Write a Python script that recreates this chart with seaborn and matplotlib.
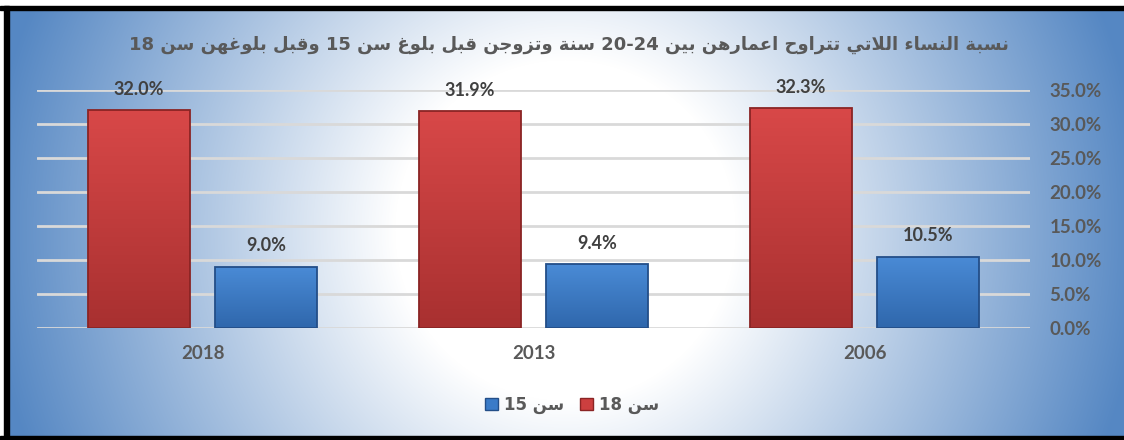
import re

import matplotlib.pyplot as plt
import numpy as np
import pandas as pd
import seaborn as sns
from matplotlib.colors import LinearSegmentedColormap
from matplotlib.patches import Patch, Rectangle

years = ["2018", "2013", "2006"]
series_18 = [32.0, 31.9, 32.3]
series_15 = [9.0, 9.4, 10.5]
label_18 = "سن 18"
label_15 = "سن 15"
title = "نسبة النساء اللاتي تتراوح اعمارهن بين 20-24 سنة وتزوجن قبل بلوغ سن 15 وقبل بلوغهن سن 18"
y_ticks = [0, 5, 10, 15, 20, 25, 30, 35]

# arabic presentation forms: (isolated, final, initial, medial)
FORMS = {
    "ء": ("\uFE80",),
    "ا": ("\uFE8D", "\uFE8E"),
    "ب": ("\uFE8F", "\uFE90", "\uFE91", "\uFE92"),
    "ة": ("\uFE93", "\uFE94"),
    "ت": ("\uFE95", "\uFE96", "\uFE97", "\uFE98"),
    "ج": ("\uFE9D", "\uFE9E", "\uFE9F", "\uFEA0"),
    "ح": ("\uFEA1", "\uFEA2", "\uFEA3", "\uFEA4"),
    "ر": ("\uFEAD", "\uFEAE"),
    "ز": ("\uFEAF", "\uFEB0"),
    "س": ("\uFEB1", "\uFEB2", "\uFEB3", "\uFEB4"),
    "ع": ("\uFEC9", "\uFECA", "\uFECB", "\uFECC"),
    "غ": ("\uFECD", "\uFECE", "\uFECF", "\uFED0"),
    "ق": ("\uFED5", "\uFED6", "\uFED7", "\uFED8"),
    "ل": ("\uFEDD", "\uFEDE", "\uFEDF", "\uFEE0"),
    "م": ("\uFEE1", "\uFEE2", "\uFEE3", "\uFEE4"),
    "ن": ("\uFEE5", "\uFEE6", "\uFEE7", "\uFEE8"),
    "ه": ("\uFEE9", "\uFEEA", "\uFEEB", "\uFEEC"),
    "و": ("\uFEED", "\uFEEE"),
    "ي": ("\uFEF1", "\uFEF2", "\uFEF3", "\uFEF4"),
}


def is_dual(c):
    return c in FORMS and len(FORMS[c]) == 4


def is_joining(c):
    return c in FORMS and len(FORMS[c]) > 1


def rtl(text):
    out = []
    i = 0
    n = len(text)
    while i < n:
        c = text[i]
        if c not in FORMS:
            out.append(c)
            i += 1
            continue
        prev_j = i > 0 and is_dual(text[i - 1])
        if c == "ل" and i + 1 < n and text[i + 1] == "ا":
            out.append("\uFEFC" if prev_j else "\uFEFB")
            i += 2
            continue
        f = FORMS[c]
        next_j = is_dual(c) and i + 1 < n and is_joining(text[i + 1])
        if len(f) == 1:
            g = f[0]
        elif prev_j and next_j:
            g = f[3]
        elif prev_j:
            g = f[1]
        elif next_j:
            g = f[2]
        else:
            g = f[0]
        out.append(g)
        i += 1
    s = "".join(out)[::-1]
    return re.sub(r"[0-9][0-9.\-%]*", lambda m: m.group(0)[::-1], s)


df = pd.DataFrame({
    "year": years * 2,
    "value": series_18 + series_15,
    "age": [label_18] * len(years) + [label_15] * len(years),
})

sns.set_theme(style="white")
plt.rcParams["font.family"] = ["Lato", "DejaVu Sans"]

W, H = 1124, 440
fig = plt.figure(figsize=(W / 100, H / 100), dpi=100)

# background: white centre fading to blue at the sides
bg = fig.add_axes([0, 0, 1, 1], zorder=-5)
xx, yy = np.meshgrid(np.arange(W), np.arange(H))
d = np.sqrt((xx - 565.0) ** 2 + (yy - 230.0) ** 2)
t = np.clip((d - 170) / 410, 0, 1)[..., None]
blue = np.array([85, 135, 195]) / 255
img = (1 - t) * np.ones(3) + t * blue
bg.imshow(img, extent=[0, W, H, 0], aspect="auto", interpolation="bilinear")
bg.add_patch(Rectangle((0, 0), W, 6, color="white"))
bg.add_patch(Rectangle((0, 0), 4, H, color="white"))
bg.add_patch(Rectangle((0, 6), W, 4, color="black"))
bg.add_patch(Rectangle((4, 6), 5, H, color="black"))
bg.add_patch(Rectangle((0, H - 4), W, 4, color="black"))
bg.set_xlim(0, W)
bg.set_ylim(H, 0)
bg.axis("off")

ax = fig.add_axes([37 / W, 112 / H, 993 / W, 238 / H])
ax.patch.set_alpha(0)

red = "#CC3F3F"
blue_bar = "#3A7BC8"
sns.barplot(
    data=df, x="year", y="value", hue="age",
    order=years, hue_order=[label_18, label_15],
    palette=[red, blue_bar], saturation=1, width=0.77, gap=0.2,
    ax=ax, zorder=3,
)

# vertical shading on the bars, dark at the foot, light at the top
shades = [("#A83030", "#D84848", "#8A2424"), ("#2F67AC", "#4A8BD6", "#234E88")]
for container, (c_lo, c_hi, ec) in zip(ax.containers, shades):
    cmap = LinearSegmentedColormap.from_list("shade", [c_lo, c_hi])
    for bar in container:
        x0, y0 = bar.get_x(), bar.get_y()
        w, h = bar.get_width(), bar.get_height()
        grad = np.linspace(0, 1, 200).reshape(-1, 1)
        im = ax.imshow(grad, extent=[x0, x0 + w, y0, y0 + h], origin="lower",
                       cmap=cmap, aspect="auto", zorder=3.5)
        im.set_clip_path(bar)
        bar.set_facecolor("none")
        bar.set_edgecolor(ec)
        bar.set_linewidth(1.3)
        bar.set_zorder(4)
    ax.bar_label(container, fmt="%.1f%%", padding=9, fontsize=13,
                 fontweight="bold", color="#404040")

ax.set_ylim(0, 35)
ax.set_xlim(-0.5, 2.5)
ax.set_yticks(y_ticks)
ax.set_yticklabels([f"{v:.1f}%" for v in y_ticks])
ax.yaxis.tick_right()
ax.tick_params(axis="y", length=0, pad=14, labelsize=13.5, labelcolor="#595959")
ax.tick_params(axis="x", length=0, pad=12, labelsize=13.5, labelcolor="#595959")
for lab in ax.get_xticklabels() + ax.get_yticklabels():
    lab.set_fontweight("bold")
ax.grid(axis="y", color="#D9D9D9", linewidth=2, zorder=0)
ax.set_axisbelow(True)
for s in ax.spines.values():
    s.set_visible(False)
ax.set_xlabel("")
ax.set_ylabel("")

ax.get_legend().remove()
handles = [Patch(facecolor=blue_bar, edgecolor=shades[1][2]),
           Patch(facecolor=red, edgecolor=shades[0][2])]
fig.legend(
    handles, [rtl(label_15), rtl(label_18)],
    loc="center", bbox_to_anchor=(572 / W, 35 / H), ncol=2, frameon=False,
    handlelength=0.75, handleheight=0.75, handletextpad=0.35, columnspacing=1.0,
    prop={"family": ["DejaVu Sans"], "weight": "bold", "size": 12},
    labelcolor="#595959",
)

fig.text(569 / W, 1 - 45 / H, rtl(title), ha="center", va="center",
         fontsize=13, fontweight="bold", color="#595959", family=["DejaVu Sans"])

fig.savefig("out.png", dpi=100)
